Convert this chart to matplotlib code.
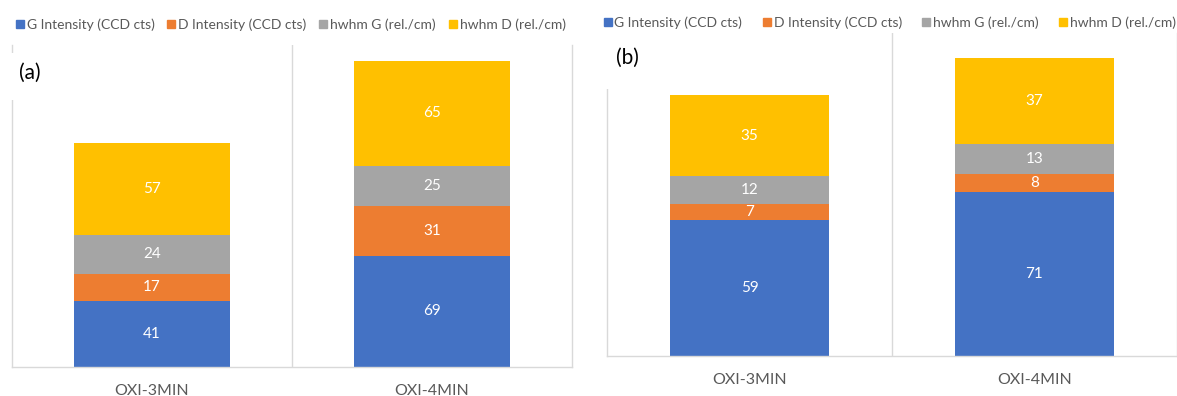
import matplotlib
matplotlib.use("Agg")
import matplotlib.pyplot as plt
from matplotlib.lines import Line2D
from matplotlib.patches import Rectangle
import numpy as np

plt.rcParams['font.family'] = ['Lato', 'DejaVu Sans']

categories = ["OXI-3MIN", "OXI-4MIN"]
series_names = ["G Intensity (CCD cts)", "D Intensity (CCD cts)",
                "hwhm G (rel./cm)", "hwhm D (rel./cm)"]
colors = ["#4472C4", "#ED7D31", "#A5A5A5", "#FFC000"]

# panel (a)
a_g_int = [41, 69]
a_d_int = [17, 31]
a_hwhm_g = [24, 25]
a_hwhm_d = [57, 65]

# panel (b)
b_g_int = [59, 71]
b_d_int = [7, 8]
b_hwhm_g = [12, 13]
b_hwhm_d = [35, 37]

W, H = 1177, 396
fig = plt.figure(figsize=(W / 100, H / 100), dpi=100)

grid_col = "#D9D9D9"
text_col = "#595959"


def px_axes(x0, x1, y_top, y_bot):
    return fig.add_axes([x0 / W, (H - y_bot) / H, (x1 - x0) / W, (y_bot - y_top) / H])


def draw_panel(ax, stacks, ymax, colspacing, legend_xy):
    x = np.arange(len(categories))
    bottom = np.zeros(len(categories))
    for vals, name, col in zip(stacks, series_names, colors):
        vals = np.array(vals, dtype=float)
        ax.bar(x, vals, bottom=bottom, width=0.56, color=col, label=name, zorder=2)
        for xi, b, v in zip(x, bottom, vals):
            ax.text(xi, b + v / 2, f"{v:g}", ha="center", va="center",
                    color="white", fontsize=11, zorder=3)
        bottom += vals
    ax.set_xlim(-0.5, len(categories) - 0.5)
    ax.set_ylim(0, ymax)
    ax.set_yticks([])
    ax.set_xticks(x)
    ax.set_xticklabels(categories, color=text_col, fontsize=11.5)
    ax.tick_params(axis="x", length=0, pad=12)
    for s in ["left", "right", "bottom"]:
        ax.spines[s].set_color(grid_col)
        ax.spines[s].set_linewidth(1)
    ax.spines["top"].set_visible(False)
    for xd in np.arange(0.5, len(categories) - 0.5, 1.0):
        ax.axvline(xd, color=grid_col, linewidth=1, zorder=1)
    handles = [Line2D([], [], marker="s", linestyle="", color=c, markersize=5.5)
               for c in colors]
    ax.legend(handles, series_names, loc="center", ncol=4, frameon=False,
              bbox_to_anchor=(legend_xy[0] / W, (H - legend_xy[1]) / H),
              bbox_transform=fig.transFigure,
              handletextpad=0.1, columnspacing=colspacing, fontsize=10,
              labelcolor=text_col, borderaxespad=0, borderpad=0, handlelength=0.8)


ax_a = px_axes(12, 572, 45, 367)
draw_panel(ax_a, [a_g_int, a_d_int, a_hwhm_g, a_hwhm_d], 200, 0.8, (290, 25))

ax_b = px_axes(607, 1177, 33, 356)
draw_panel(ax_b, [b_g_int, b_d_int, b_hwhm_g, b_hwhm_d], 140, 1.35, (889, 23))


def white_box(x0, x1, y_top, y_bot):
    fig.patches.append(Rectangle((x0 / W, (H - y_bot) / H), (x1 - x0) / W,
                                 (y_bot - y_top) / H, transform=fig.transFigure,
                                 facecolor="white", edgecolor="none", zorder=5))


# panel tags sit on white patches that interrupt the left border
white_box(4, 52, 53, 100)
white_box(598, 655, 30, 89)
fig.text(30 / W, (H - 73) / H, "(a)", ha="center", va="center", fontsize=15,
         color="black", zorder=10)
fig.text(627 / W, (H - 58) / H, "(b)", ha="center", va="center", fontsize=15,
         color="black", zorder=10)

fig.savefig("out.png", dpi=100, facecolor="white")
